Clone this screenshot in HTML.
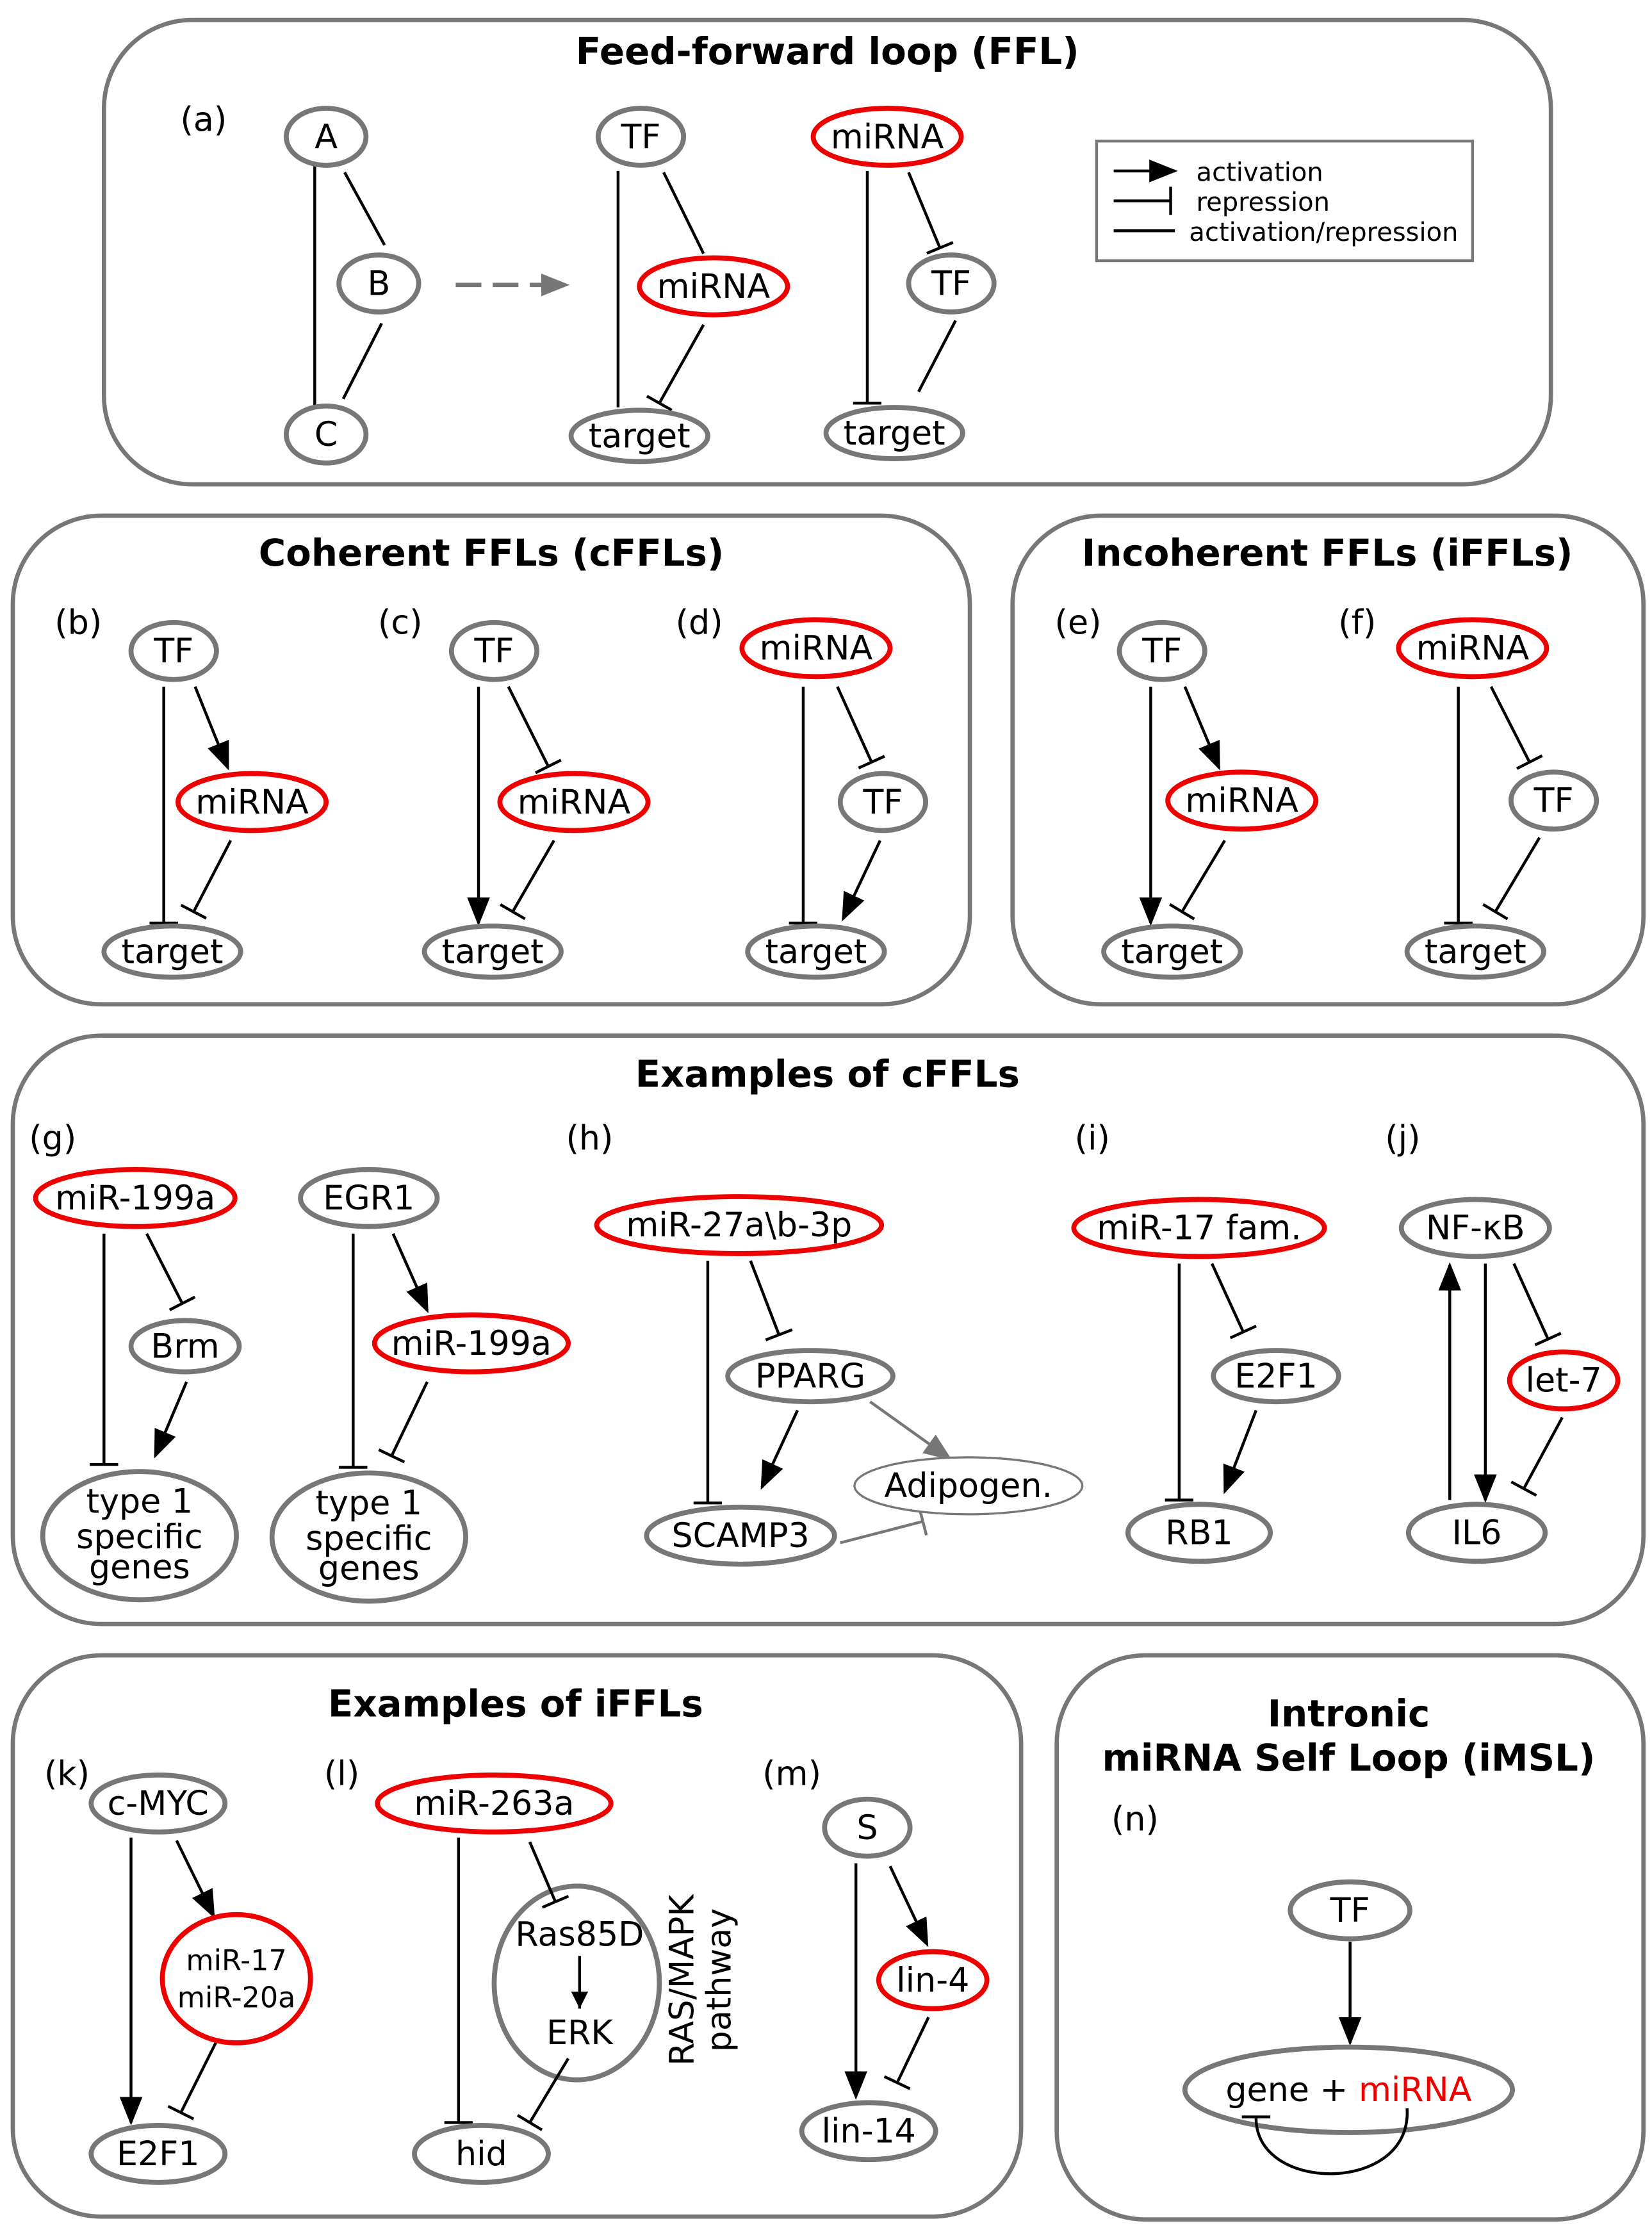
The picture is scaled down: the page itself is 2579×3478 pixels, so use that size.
<!DOCTYPE html>
<html><head><meta charset="utf-8"><style>
html,body{margin:0;padding:0;background:#fff}
svg{display:block}
text{font-family:"DejaVu Sans","Liberation Sans",sans-serif;font-size:23.5px;fill:#000;text-anchor:middle}
.t{font-weight:bold;font-size:26px}
.l{text-anchor:start;font-size:18px}
.p{fill:none;stroke:#777;stroke-width:3}
.g{fill:#fff;stroke:#777;stroke-width:3.5}
.r{fill:#fff;stroke:#e00;stroke-width:3.5}
.e{stroke:#000;stroke-width:2;fill:none}
</style></head><body>
<svg width="2579" height="3478" viewBox="0 0 1160 1564" preserveAspectRatio="none" xmlns="http://www.w3.org/2000/svg">
<defs>
<marker id="a" markerUnits="userSpaceOnUse" markerWidth="22" markerHeight="22" refX="18" refY="8" orient="auto"><path d="M0,0 L20,8 L0,16 z" fill="#000"/></marker>
<marker id="ag" markerUnits="userSpaceOnUse" markerWidth="22" markerHeight="22" refX="18" refY="8" orient="auto"><path d="M0,0 L20,8 L0,16 z" fill="#777"/></marker>
<marker id="s" markerUnits="userSpaceOnUse" markerWidth="16" markerHeight="16" refX="12" refY="7" orient="auto"><path d="M0,1 L12,7 L0,13 z" fill="#000"/></marker>
<marker id="b" markerUnits="userSpaceOnUse" markerWidth="6" markerHeight="22" refX="2" refY="10" orient="auto"><path d="M2,0 L2,20" stroke="#000" stroke-width="2"/></marker>
<marker id="bg" markerUnits="userSpaceOnUse" markerWidth="6" markerHeight="22" refX="2" refY="10" orient="auto"><path d="M2,0 L2,20" stroke="#777" stroke-width="2"/></marker>
</defs>

<!-- Panel 1 -->
<rect class="p" x="73" y="14" width="1016" height="326" rx="62"/>
<text class="t" x="581" y="45">Feed-forward loop (FFL)</text>
<text x="143" y="92">(a)</text>
<line class="e" x1="221" y1="116" x2="221" y2="285"/>
<line class="e" x1="242" y1="121" x2="270" y2="172"/>
<line class="e" x1="268" y1="227" x2="241" y2="280"/>
<ellipse class="g" cx="229" cy="96" rx="28" ry="20"/><text x="229" y="104">A</text>
<ellipse class="g" cx="266" cy="199" rx="28" ry="20"/><text x="266" y="207">B</text>
<ellipse class="g" cx="229" cy="305" rx="28" ry="20"/><text x="229" y="313">C</text>
<line x1="320" y1="200" x2="398" y2="200" stroke="#777" stroke-width="3" stroke-dasharray="18,8" marker-end="url(#ag)"/>
<line class="e" x1="434" y1="120" x2="434" y2="286"/>
<line class="e" x1="466" y1="121" x2="494" y2="178"/>
<line class="e" x1="494" y1="228" x2="463" y2="283" marker-end="url(#b)"/>
<ellipse class="g" cx="450" cy="96" rx="30" ry="20"/><text x="450" y="104">TF</text>
<ellipse class="r" cx="501" cy="201" rx="52" ry="20"/><text x="501" y="209">miRNA</text>
<ellipse class="g" cx="449" cy="306" rx="48" ry="18"/><text x="449" y="314">target</text>
<line class="e" x1="609" y1="120" x2="609" y2="283" marker-end="url(#b)"/>
<line class="e" x1="638" y1="121" x2="660" y2="174" marker-end="url(#b)"/>
<line class="e" x1="671" y1="225" x2="645" y2="275"/>
<ellipse class="r" cx="623" cy="96" rx="52" ry="20"/><text x="623" y="104">miRNA</text>
<ellipse class="g" cx="668" cy="199" rx="30" ry="20"/><text x="668" y="207">TF</text>
<ellipse class="g" cx="628" cy="304" rx="48" ry="18"/><text x="628" y="312">target</text>
<rect x="770" y="99" width="264" height="84" fill="none" stroke="#777" stroke-width="2"/>
<line class="e" x1="782" y1="120" x2="825" y2="120" marker-end="url(#a)"/>
<text class="l" x="840" y="127">activation</text>
<line class="e" x1="782" y1="141" x2="822" y2="141" marker-end="url(#b)"/>
<text class="l" x="840" y="148">repression</text>
<line class="e" x1="782" y1="162" x2="825" y2="162"/>
<text class="l" x="835" y="169">activation/repression</text>

<!-- Panel 2 -->
<rect class="p" x="9" y="362" width="672" height="343" rx="62"/>
<text class="t" x="345" y="397">Coherent FFLs (cFFLs)</text>
<text x="55" y="445">(b)</text>
<line class="e" x1="115" y1="482" x2="115" y2="648" marker-end="url(#b)"/>
<line class="e" x1="137" y1="482" x2="160" y2="539" marker-end="url(#a)"/>
<line class="e" x1="162" y1="590" x2="136" y2="640" marker-end="url(#b)"/>
<ellipse class="g" cx="122" cy="457" rx="30" ry="20"/><text x="122" y="465">TF</text>
<ellipse class="r" cx="177" cy="563" rx="52" ry="20"/><text x="177" y="571">miRNA</text>
<ellipse class="g" cx="121" cy="668" rx="48" ry="18"/><text x="121" y="676">target</text>
<text x="281" y="445">(c)</text>
<line class="e" x1="336" y1="482" x2="336" y2="648" marker-end="url(#a)"/>
<line class="e" x1="357" y1="482" x2="385" y2="538" marker-end="url(#b)"/>
<line class="e" x1="389" y1="590" x2="360" y2="640" marker-end="url(#b)"/>
<ellipse class="g" cx="347" cy="457" rx="30" ry="20"/><text x="347" y="465">TF</text>
<ellipse class="r" cx="403" cy="563" rx="52" ry="20"/><text x="403" y="571">miRNA</text>
<ellipse class="g" cx="346" cy="668" rx="48" ry="18"/><text x="346" y="676">target</text>
<text x="491" y="445">(d)</text>
<line class="e" x1="564" y1="482" x2="564" y2="648" marker-end="url(#b)"/>
<line class="e" x1="588" y1="482" x2="612" y2="535" marker-end="url(#b)"/>
<line class="e" x1="618" y1="590" x2="592" y2="645" marker-end="url(#a)"/>
<ellipse class="r" cx="573" cy="455" rx="52" ry="20"/><text x="573" y="463">miRNA</text>
<ellipse class="g" cx="620" cy="563" rx="30" ry="20"/><text x="620" y="571">TF</text>
<ellipse class="g" cx="573" cy="668" rx="48" ry="18"/><text x="573" y="676">target</text>

<!-- Panel 3 -->
<rect class="p" x="711" y="362" width="443" height="343" rx="62"/>
<text class="t" x="932" y="397">Incoherent FFLs (iFFLs)</text>
<text x="757" y="445">(e)</text>
<line class="e" x1="808" y1="482" x2="808" y2="648" marker-end="url(#a)"/>
<line class="e" x1="832" y1="482" x2="856" y2="539" marker-end="url(#a)"/>
<line class="e" x1="860" y1="590" x2="830" y2="640" marker-end="url(#b)"/>
<ellipse class="g" cx="816" cy="457" rx="30" ry="20"/><text x="816" y="465">TF</text>
<ellipse class="r" cx="872" cy="562" rx="52" ry="20"/><text x="872" y="570">miRNA</text>
<ellipse class="g" cx="823" cy="668" rx="48" ry="18"/><text x="823" y="676">target</text>
<text x="953" y="445">(f)</text>
<line class="e" x1="1024" y1="482" x2="1024" y2="648" marker-end="url(#b)"/>
<line class="e" x1="1047" y1="482" x2="1074" y2="535" marker-end="url(#b)"/>
<line class="e" x1="1081" y1="588" x2="1050" y2="640" marker-end="url(#b)"/>
<ellipse class="r" cx="1034" cy="455" rx="52" ry="20"/><text x="1034" y="463">miRNA</text>
<ellipse class="g" cx="1091" cy="562" rx="30" ry="20"/><text x="1091" y="570">TF</text>
<ellipse class="g" cx="1036" cy="668" rx="48" ry="18"/><text x="1036" y="676">target</text>

<!-- Panel 4 -->
<rect class="p" x="9" y="727" width="1145" height="413" rx="62"/>
<text class="t" x="581" y="763">Examples of cFFLs</text>
<text x="37" y="807">(g)</text>
<line class="e" x1="73" y1="866" x2="73" y2="1028" marker-end="url(#b)"/>
<line class="e" x1="103" y1="866" x2="128" y2="915" marker-end="url(#b)"/>
<line class="e" x1="131" y1="970" x2="109" y2="1022" marker-end="url(#a)"/>
<ellipse class="r" cx="95" cy="841" rx="70" ry="20"/><text x="95" y="849">miR-199a</text>
<ellipse class="g" cx="130" cy="945" rx="38" ry="18"/><text x="130" y="953">Brm</text>
<ellipse class="g" cx="98" cy="1078" rx="68" ry="45"/><text x="98" y="1062">type 1</text><text x="98" y="1087">specific</text><text x="98" y="1108">genes</text>
<line class="e" x1="248" y1="866" x2="248" y2="1030" marker-end="url(#b)"/>
<line class="e" x1="276" y1="866" x2="300" y2="920" marker-end="url(#a)"/>
<line class="e" x1="300" y1="970" x2="275" y2="1022" marker-end="url(#b)"/>
<ellipse class="g" cx="259" cy="841" rx="48" ry="20"/><text x="259" y="849">EGR1</text>
<ellipse class="r" cx="331" cy="943" rx="68" ry="20"/><text x="331" y="951">miR-199a</text>
<ellipse class="g" cx="259" cy="1079" rx="68" ry="45"/><text x="259" y="1063">type 1</text><text x="259" y="1088">specific</text><text x="259" y="1109">genes</text>
<text x="414" y="807">(h)</text>
<line class="e" x1="497" y1="885" x2="497" y2="1055" marker-end="url(#b)"/>
<line class="e" x1="527" y1="885" x2="547" y2="937" marker-end="url(#b)"/>
<line class="e" x1="560" y1="990" x2="535" y2="1044" marker-end="url(#a)"/>
<line x1="611" y1="984" x2="667" y2="1024" stroke="#777" stroke-width="2" marker-end="url(#ag)"/>
<line x1="590" y1="1083" x2="648" y2="1068" stroke="#777" stroke-width="2" marker-end="url(#bg)"/>
<ellipse class="r" cx="519" cy="860" rx="100" ry="20"/><text x="519" y="868">miR-27a\b-3p</text>
<ellipse class="g" cx="569" cy="966" rx="58" ry="18"/><text x="569" y="974">PPARG</text>
<ellipse class="g" cx="520" cy="1078" rx="66" ry="20"/><text x="520" y="1086">SCAMP3</text>
<ellipse cx="680" cy="1043" rx="80" ry="20" fill="#fff" stroke="#777" stroke-width="1.5"/><text x="680" y="1051">Adipogen.</text>
<text x="767" y="807">(i)</text>
<line class="e" x1="828" y1="887" x2="828" y2="1053" marker-end="url(#b)"/>
<line class="e" x1="851" y1="887" x2="873" y2="935" marker-end="url(#b)"/>
<line class="e" x1="882" y1="990" x2="860" y2="1047" marker-end="url(#a)"/>
<ellipse class="r" cx="842" cy="862" rx="88" ry="20"/><text x="842" y="870">miR-17 fam.</text>
<ellipse class="g" cx="896" cy="966" rx="44" ry="18"/><text x="896" y="974">E2F1</text>
<ellipse class="g" cx="842" cy="1076" rx="50" ry="20"/><text x="842" y="1084">RB1</text>
<text x="985" y="807">(j)</text>
<line class="e" x1="1018" y1="1053" x2="1018" y2="888" marker-end="url(#a)"/>
<line class="e" x1="1043" y1="887" x2="1043" y2="1053" marker-end="url(#a)"/>
<line class="e" x1="1063" y1="887" x2="1087" y2="940" marker-end="url(#b)"/>
<line class="e" x1="1097" y1="995" x2="1070" y2="1045" marker-end="url(#b)"/>
<ellipse class="g" cx="1036" cy="862" rx="52" ry="20"/><text x="1036" y="870">NF-κB</text>
<ellipse class="r" cx="1098" cy="969" rx="38" ry="20"/><text x="1098" y="977">let-7</text>
<ellipse class="g" cx="1037" cy="1076" rx="48" ry="20"/><text x="1037" y="1084">IL6</text>

<!-- Panel 5 -->
<rect class="p" x="9" y="1162" width="708" height="394" rx="62"/>
<text class="t" x="362" y="1205">Examples of iFFLs</text>
<text x="47" y="1253">(k)</text>
<line class="e" x1="92" y1="1290" x2="92" y2="1490" marker-end="url(#a)"/>
<line class="e" x1="124" y1="1292" x2="150" y2="1345" marker-end="url(#a)"/>
<line class="e" x1="152" y1="1433" x2="127" y2="1483" marker-end="url(#b)"/>
<ellipse class="g" cx="111" cy="1266" rx="47" ry="20"/><text x="111" y="1274">c-MYC</text>
<ellipse class="r" cx="166" cy="1389" rx="52" ry="45"/><text x="166" y="1383" style="font-size:20px">miR-17</text><text x="166" y="1409" style="font-size:20px">miR-20a</text>
<ellipse class="g" cx="111" cy="1512" rx="47" ry="20"/><text x="111" y="1520">E2F1</text>
<text x="240" y="1253">(l)</text>
<line class="e" x1="322" y1="1290" x2="322" y2="1490" marker-end="url(#b)"/>
<ellipse class="g" cx="405" cy="1392" rx="58" ry="68"/>
<line class="e" x1="372" y1="1293" x2="390" y2="1335" marker-end="url(#b)"/>
<text x="407" y="1366">Ras85D</text>
<line class="e" x1="407" y1="1373" x2="407" y2="1410" marker-end="url(#s)"/>
<text x="407" y="1435">ERK</text>
<line class="e" x1="399" y1="1445" x2="372" y2="1490" marker-end="url(#b)"/>
<ellipse class="r" cx="347" cy="1266" rx="82" ry="20"/><text x="347" y="1274">miR-263a</text>
<ellipse class="g" cx="338" cy="1512" rx="47" ry="20"/><text x="338" y="1520">hid</text>
<text transform="translate(487,1390) rotate(-90)">RAS/MAPK</text>
<text transform="translate(513,1390) rotate(-90)">pathway</text>
<text x="556" y="1253">(m)</text>
<line class="e" x1="601" y1="1308" x2="601" y2="1472" marker-end="url(#a)"/>
<line class="e" x1="625" y1="1310" x2="651" y2="1365" marker-end="url(#a)"/>
<line class="e" x1="652" y1="1416" x2="630" y2="1462" marker-end="url(#b)"/>
<ellipse class="g" cx="609" cy="1283" rx="30" ry="20"/><text x="609" y="1291">S</text>
<ellipse class="r" cx="655" cy="1390" rx="38" ry="20"/><text x="655" y="1398">lin-4</text>
<ellipse class="g" cx="610" cy="1496" rx="47" ry="20"/><text x="610" y="1504">lin-14</text>

<!-- Panel 6 -->
<rect class="p" x="742" y="1162" width="412" height="396" rx="62"/>
<text class="t" x="947" y="1212">Intronic</text>
<text class="t" x="947" y="1243">miRNA Self Loop (iMSL)</text>
<text x="797" y="1285">(n)</text>
<line class="e" x1="948" y1="1363" x2="948" y2="1434" marker-end="url(#a)"/>
<ellipse class="g" cx="948" cy="1341" rx="42" ry="20"/><text x="948" y="1349">TF</text>
<ellipse class="g" cx="947" cy="1467" rx="115" ry="30"/>
<text x="947" y="1475">gene + <tspan fill="#e00">miRNA</tspan></text>
<path d="M988,1480 C992,1540 882,1540 882,1487" class="e"/>
<line class="e" x1="872" y1="1486" x2="892" y2="1486"/>
</svg>
</body></html>
